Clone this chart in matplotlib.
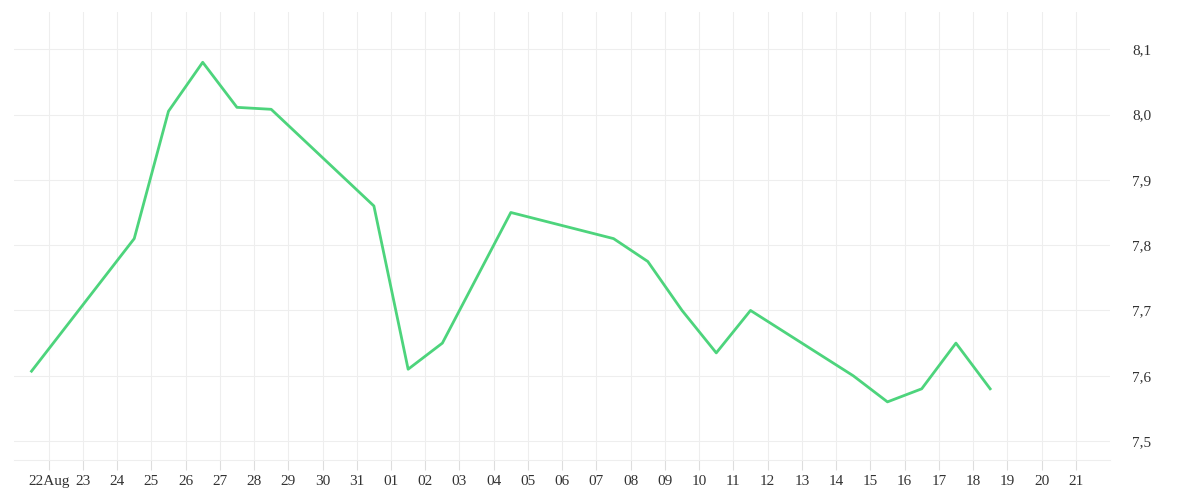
import numpy as np
import matplotlib.pyplot as plt
import matplotlib.dates as mdates
import datetime as dt

dates = ["2023-08-21 12:00", "2023-08-24 12:00", "2023-08-25 12:00", "2023-08-26 12:00",
         "2023-08-27 12:00", "2023-08-28 12:00", "2023-08-31 12:00", "2023-09-01 12:00",
         "2023-09-02 12:00", "2023-09-04 12:00", "2023-09-07 12:00", "2023-09-08 12:00",
         "2023-09-09 12:00", "2023-09-10 12:00", "2023-09-11 12:00", "2023-09-14 12:00",
         "2023-09-15 12:00", "2023-09-16 12:00", "2023-09-17 12:00", "2023-09-18 12:00"]
values = [7.607, 7.81, 8.005, 8.08, 8.011, 8.008, 7.86, 7.61, 7.65, 7.85,
          7.81, 7.775, 7.70, 7.635, 7.70, 7.60, 7.56, 7.58, 7.65, 7.58]
y_ticks = [7.5, 7.6, 7.7, 7.8, 7.9, 8.0, 8.1]

x = [dt.datetime.strptime(d, "%Y-%m-%d %H:%M") for d in dates]
plt.rcParams['font.family'] = ['Liberation Serif', 'DejaVu Serif']

fig = plt.figure(figsize=(12, 5), dpi=100)
ax = fig.add_axes([0.012, 0.08, 0.913, 0.896])
ax.plot(x, values, color="#4dd47c", lw=2)

ax.set_xlim(dt.datetime(2023, 8, 21), dt.datetime(2023, 9, 22))
ax.set_ylim(7.471, 8.157)
tick_days = [dt.datetime(2023, 8, 22) + dt.timedelta(days=i) for i in range(31)]
ax.set_xticks(tick_days)
ax.set_xticklabels(["22Aug" if i == 0 else d.strftime("%d") for i, d in enumerate(tick_days)])
ax.yaxis.tick_right()
ax.set_yticks(y_ticks)
ax.set_yticklabels([f"{v:.1f}".replace(".", ",") for v in y_ticks])
ax.grid(True, color="#eeeeee", lw=0.8)
for s in ax.spines.values():
    s.set_visible(False)
ax.spines['bottom'].set_visible(True)
ax.spines['bottom'].set_color("#eeeeee")
ax.tick_params(axis='x', colors="#dddddd", labelcolor="#333333", length=7, labelsize=11)
ax.tick_params(axis='y', length=0, labelcolor="#333333", labelsize=11, pad=16)
plt.savefig("out.png")
